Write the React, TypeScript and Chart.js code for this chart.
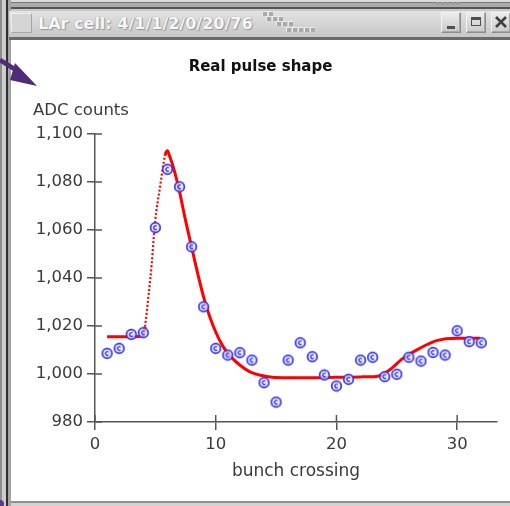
import React, { useEffect, useRef } from "react";
import { Chart, registerables } from "chart.js";

Chart.register(...registerables);

// Measured samples: ADC counts per bunch crossing
const bunchCrossing = [
  1, 2, 3, 4, 5, 6, 7, 8, 9, 10, 11, 12, 13, 14, 15, 16,
  17, 18, 19, 20, 21, 22, 23, 24, 25, 26, 27, 28, 29, 30, 31, 32,
];
const adcCounts = [
  1008.6, 1010.7, 1016.5, 1017.2, 1061, 1085.3, 1078, 1053, 1028, 1010.7, 1007.9, 1008.9, 1005.8, 996.4, 988.3, 1005.8,
  1013, 1007.2, 999.6, 995, 997.8, 1005.8, 1007, 998.9, 999.9, 1007, 1005.4, 1009, 1007.9, 1018, 1013.5, 1013,
];

// Reference pulse shape curve
const shapeX = [
  1, 2, 3, 4.0, 4.14, 4.42, 4.7, 4.97, 5.39, 5.8, 6.0, 6.2, 6.5, 7.0, 7.5, 8.0,
  8.5, 9.0, 9.5, 10.0, 10.6, 11.2, 11.7, 12.8, 14.2, 15.6, 18, 20, 22, 23.3, 24.4, 25.5,
  26.9, 28.3, 30, 31.9,
];
const shapeY = [
  1015.5, 1015.5, 1015.5, 1015.8, 1019.7, 1032, 1046, 1063, 1078, 1091, 1093, 1090.5, 1086, 1076, 1064, 1053,
  1042, 1032, 1024, 1017.5, 1011.5, 1007.5, 1005, 1001, 999, 998.4, 998.4, 998.6, 998.8, 999, 1001.7, 1006.5,
  1010.7, 1013.9, 1014.9, 1014.9,
];

const xTickValues = [0, 10, 20, 30];
const yTickValues = [980, 1000, 1020, 1040, 1060, 1080, 1100];
const xRange = [0, 33.3];
const yRange = [980, 1100];

const chartTitle = "Real pulse shape";
const xAxisTitle = "bunch crossing";
const yAxisTitle = "ADC counts";
const windowTitle = "LAr cell: 4/1/1/2/0/20/76";

const FONT = '"DejaVu Sans", "Liberation Sans", sans-serif';
const AXIS_COLOR = "#555";
const TEXT_COLOR = "#3a3a3a";

function makeMarker(): HTMLCanvasElement {
  const c = document.createElement("canvas");
  c.width = 13;
  c.height = 13;
  const g = c.getContext("2d")!;
  g.beginPath();
  g.arc(6.5, 6.5, 4.8, 0, Math.PI * 2);
  g.fillStyle = "rgba(235,235,255,0.8)";
  g.fill();
  g.lineWidth = 1.7;
  g.strokeStyle = "#3434f0";
  g.stroke();
  g.beginPath();
  g.arc(6.8, 6.5, 1.9, Math.PI * 0.3, Math.PI * 1.7, false);
  g.lineWidth = 1.3;
  g.stroke();
  return c;
}

const decorations = {
  id: "decorations",
  afterDraw(chart: any) {
    const { ctx, chartArea, scales } = chart;
    const xs = scales.x;
    const ys = scales.y;
    ctx.save();
    // inner halves of the crossing tick marks
    ctx.strokeStyle = AXIS_COLOR;
    ctx.lineWidth = 1.5;
    ctx.beginPath();
    ys.ticks.forEach((t: any) => {
      const py = ys.getPixelForValue(t.value);
      ctx.moveTo(chartArea.left, py);
      ctx.lineTo(chartArea.left + 7, py);
    });
    xs.ticks.forEach((t: any) => {
      const px = xs.getPixelForValue(t.value);
      ctx.moveTo(px, chartArea.bottom);
      ctx.lineTo(px, chartArea.bottom - 7);
    });
    ctx.stroke();

    ctx.fillStyle = "#111";
    ctx.font = `bold 15px ${FONT}`;
    ctx.textAlign = "center";
    ctx.textBaseline = "alphabetic";
    ctx.fillText(chartTitle, chart.width / 2, 31);

    ctx.fillStyle = TEXT_COLOR;
    ctx.font = `16.5px ${FONT}`;
    ctx.textAlign = "left";
    ctx.fillText(yAxisTitle, 22, 75);

    ctx.font = `17px ${FONT}`;
    ctx.textAlign = "center";
    ctx.fillText(xAxisTitle, (chartArea.left + chartArea.right) / 2, 436);
    ctx.restore();
  },
};

function PulseChart() {
  const ref = useRef<HTMLCanvasElement | null>(null);
  useEffect(() => {
    if (!ref.current) return;
    const marker = makeMarker();
    const chart = new Chart(ref.current, {
      type: "scatter",
      data: {
        datasets: [
          {
            type: "scatter",
            label: "samples",
            data: bunchCrossing.map((x, i) => ({ x, y: adcCounts[i] })),
            pointStyle: marker as any,
            pointRadius: 5,
            order: 0,
          },
          {
            type: "line",
            label: "shape",
            data: shapeX.map((x, i) => ({ x, y: shapeY[i] })),
            borderColor: "#ff0000",
            borderWidth: 3,
            pointRadius: 0,
            cubicInterpolationMode: "monotone",
            fill: false,
            order: 1,
            segment: {
              borderDash: (c: any) =>
                c.p0.parsed.x >= 4.1 && c.p1.parsed.x <= 5.85 ? [2, 2] : undefined,
              borderWidth: (c: any) =>
                c.p0.parsed.x >= 4.1 && c.p1.parsed.x <= 5.85 ? 2.2 : undefined,
            },
          } as any,
        ],
      },
      options: {
        animation: false,
        responsive: false,
        devicePixelRatio: 1,
        layout: { padding: { left: 0, right: 13, top: 94, bottom: 0 } },
        plugins: {
          legend: { display: false },
          tooltip: { enabled: false },
          title: { display: false },
        },
        scales: {
          x: {
            type: "linear",
            min: xRange[0],
            max: xRange[1],
            afterBuildTicks: (s: any) => {
              s.ticks = xTickValues.map((v) => ({ value: v }));
            },
            afterFit: (s: any) => {
              s.height = 79;
            },
            ticks: {
              includeBounds: false,
              padding: 5,
              color: TEXT_COLOR,
              font: { family: FONT, size: 16.5 },
              maxRotation: 0,
            },
            grid: {
              drawOnChartArea: false,
              drawTicks: true,
              tickLength: 8,
              color: AXIS_COLOR,
              lineWidth: 1.5,
            },
            border: { display: true, color: AXIS_COLOR, width: 1.5 },
          },
          y: {
            type: "linear",
            min: yRange[0],
            max: yRange[1],
            afterBuildTicks: (s: any) => {
              s.ticks = yTickValues.map((v) => ({ value: v }));
            },
            afterFit: (s: any) => {
              s.width = 84;
            },
            ticks: {
              padding: 4,
              color: TEXT_COLOR,
              font: { family: FONT, size: 16.5 },
              callback: (v: any) => Number(v).toLocaleString("en-US"),
            },
            grid: {
              drawOnChartArea: false,
              drawTicks: true,
              tickLength: 8,
              color: AXIS_COLOR,
              lineWidth: 1.5,
            },
            border: { display: true, color: AXIS_COLOR, width: 1.5 },
          },
        },
      },
      plugins: [decorations],
    });
    return () => chart.destroy();
  }, []);
  return (
    <canvas
      ref={ref}
      width={499}
      height={461}
      style={{ position: "absolute", left: 11, top: 40, width: 499, height: 461 }}
    />
  );
}

function TitleButton({ left, kind }: { left: number; kind: "min" | "max" | "close" }) {
  return (
    <div
      style={{
        position: "absolute",
        left,
        top: 12,
        width: 20,
        height: 21,
        boxSizing: "border-box",
        border: "1px solid #8c8c8c",
        borderTopColor: "#f2f2f2",
        borderLeftColor: "#f2f2f2",
        background: "linear-gradient(#ececec, #c9c9c9)",
        boxShadow: "inset -1px -1px 0 #a8a8a8",
      }}
    >
      {kind === "min" && (
        <div style={{ position: "absolute", left: 5, top: 13, width: 8, height: 3, background: "#505050" }} />
      )}
      {kind === "max" && (
        <div
          style={{
            position: "absolute",
            left: 4,
            top: 4,
            width: 10,
            height: 9,
            boxSizing: "border-box",
            border: "1.5px solid #505050",
            borderTopWidth: 3,
          }}
        />
      )}
      {kind === "close" && (
        <svg width="18" height="19" style={{ position: "absolute", left: 0, top: 0 }}>
          <path d="M4 4 L14 14 M14 4 L4 14" stroke="#404040" strokeWidth="2.6" />
        </svg>
      )}
    </div>
  );
}

export default function App() {
  const bumps = [
    [262, 11], [268, 11], [266, 16], [272, 16], [278, 16], [276, 21], [282, 21], [288, 21],
    [286, 27], [292, 27], [298, 27], [304, 27], [310, 27],
  ];
  return (
    <div
      style={{
        position: "fixed",
        left: 0,
        top: 0,
        width: 510,
        height: 506,
        overflow: "hidden",
        background: "#c4c4c4",
        fontFamily: FONT,
      }}
    >
      {/* frame edge above the title bar */}
      <div
        style={{
          position: "absolute",
          left: 0,
          top: 0,
          width: 510,
          height: 12,
          background:
            "linear-gradient(#dadada 0px, #dadada 2px, #7a7a7a 2px, #7a7a7a 3px, #ababab 3px, #ababab 7px, #555 7px, #555 9px, #c9c9c9 9px, #c9c9c9 12px)",
        }}
      />
      {[436, 441, 446, 451, 456].map((x) => (
        <div key={x} style={{ position: "absolute", left: x, top: 2, width: 3, height: 3, background: "#9a9a9a" }} />
      ))}
      {/* left frame edge */}
      <div
        style={{
          position: "absolute",
          left: 0,
          top: 0,
          width: 11,
          height: 506,
          background:
            "linear-gradient(90deg, #8e8e8e 0px, #8e8e8e 2px, #cdcdcd 2px, #cdcdcd 6px, #2f2f2f 6px, #2f2f2f 8px, #a3a3a3 8px, #a3a3a3 11px)",
        }}
      />
      {/* title bar */}
      <div
        style={{
          position: "absolute",
          left: 9,
          top: 11,
          width: 501,
          height: 26,
          background: "linear-gradient(#e3e3e3, #c6c6c6)",
          borderBottom: "3px solid #6a6a6a",
        }}
      />
      <div
        style={{
          position: "absolute",
          left: 11,
          top: 13,
          width: 21,
          height: 20,
          boxSizing: "border-box",
          border: "1px solid #a5a5a5",
          borderTopColor: "#efefef",
          borderLeftColor: "#efefef",
          background: "#d5d5d5",
        }}
      />
      <div
        style={{
          position: "absolute",
          left: 38,
          top: 14,
          fontSize: 16,
          fontWeight: "bold",
          color: "#f7f7f7",
          whiteSpace: "nowrap",
          lineHeight: "20px",
          textShadow: "0 0 1px #8a8a8a, 1px 1px 1px #9a9a9a",
        }}
      >
        {windowTitle}
      </div>
      {bumps.map(([x, y], i) => (
        <div
          key={i}
          style={{
            position: "absolute",
            left: x,
            top: y,
            width: 5,
            height: 5,
            background: "#a9a9a9",
            boxShadow: "inset 1px 1px 0 #ececec",
          }}
        />
      ))}
      <TitleButton left={441} kind="min" />
      <TitleButton left={466} kind="max" />
      <TitleButton left={491} kind="close" />
      {/* content pane */}
      <div style={{ position: "absolute", left: 11, top: 40, width: 499, height: 461, background: "#ffffff" }} />
      <div style={{ position: "absolute", left: 11, top: 501, width: 499, height: 2, background: "#8f8f8f" }} />
      <div style={{ position: "absolute", left: 11, top: 503, width: 499, height: 3, background: "#d2d2d2" }} />
      <PulseChart />
      {/* pointer */}
      <svg width="510" height="506" style={{ position: "absolute", left: 0, top: 0, pointerEvents: "none" }}>
        <path d="M0 60 L16 70" stroke="#4e2c78" strokeWidth="4.5" />
        <polygon points="15,63 37,86 10,80" fill="#4e2c78" />
        <circle cx="0" cy="504" r="4" fill="#5a3a82" />
      </svg>
    </div>
  );
}
